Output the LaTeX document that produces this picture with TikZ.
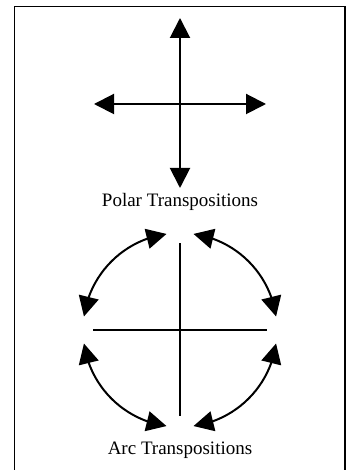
\documentclass[tikz,border=0pt]{standalone}
\usepackage{fontspec}
\setmainfont{Liberation Serif}
\usetikzlibrary{arrows.meta,bending}
\begin{document}
\begin{tikzpicture}[x=1pt,y=1pt,
  big/.style={line width=2pt,{Triangle[length=20pt,width=20pt]}-{Triangle[length=20pt,width=20pt]}},
  thin/.style={line width=1.6pt},
  label/.style={font=\fontsize{19}{22}\selectfont,anchor=base,inner sep=0pt}]
\useasboundingbox (0,0) rectangle (348,470);
\begin{scope}
\clip (0,0) rectangle (348,470);
\draw[line width=1.5pt] (14.5,-5) rectangle (345,463.5);
\end{scope}
% polar cross
\coordinate (pt) at (180,452);
\coordinate (pb) at (180,282);
\coordinate (pl) at (94,366);
\coordinate (pr) at (266,366);
\draw[big] (pb) -- (pt);
\draw[big] (pl) -- (pr);
\node[label] (polar) at (180,263) {Polar Transpositions};
% arc cross
\coordinate (ac) at (180,140);
\coordinate (at) at (180,227);
\coordinate (ab) at (180,54);
\coordinate (al) at (93,140);
\coordinate (ar) at (267,140);
\draw[thin] (ab) -- (at);
\draw[thin] (al) -- (ar);
\draw[big] ([shift={(8:97)}]ac) arc[start angle=8,end angle=82,radius=97];
\draw[big] ([shift={(98:97)}]ac) arc[start angle=98,end angle=172,radius=97];
\draw[big] ([shift={(188:97)}]ac) arc[start angle=188,end angle=262,radius=97];
\draw[big] ([shift={(278:97)}]ac) arc[start angle=278,end angle=352,radius=97];
\node[label] (arc) at (180,15) {Arc Transpositions};
\end{tikzpicture}
\end{document}
